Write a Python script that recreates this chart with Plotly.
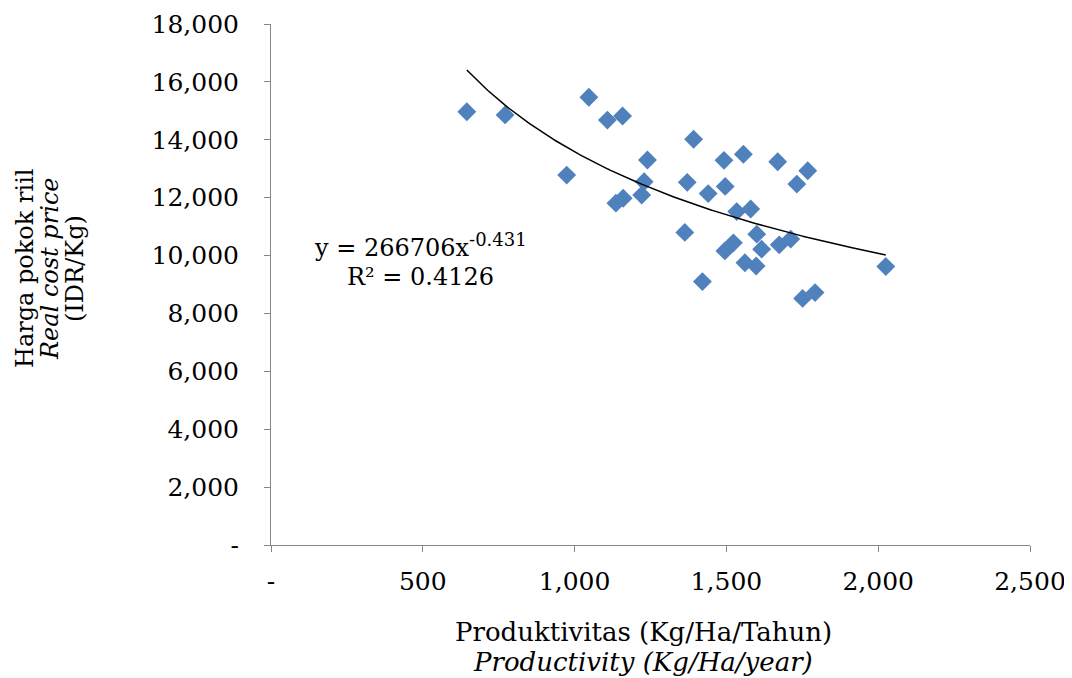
import numpy as np
import plotly.graph_objects as go

# Data
productivity = [645, 771, 1047, 1108, 1158, 974, 1240, 1229, 1136, 1160, 1221,
                1392, 1371, 1440, 1492, 1496, 1556, 1669, 1768, 1732, 1534, 1580,
                1363, 1600, 1523, 1495, 1616, 1674, 1712, 1561, 1598, 1421, 1751,
                1792, 2025]
cost_price = [14970, 14860, 15470, 14680, 14820, 12780, 13300, 12550, 11810, 11980, 12090,
              14020, 12530, 12140, 13290, 12390, 13500, 13240, 12930, 12470, 11520, 11610,
              10800, 10740, 10440, 10160, 10220, 10370, 10570, 9750, 9640, 9100, 8520,
              8720, 9620]

# Power trendline as displayed: y = 266706 x^-0.431
coef_a = 266706
coef_b = -0.431
r_squared = 0.4126

x_ticks = [0, 500, 1000, 1500, 2000, 2500]
x_ticktext = ["-", "500", "1,000", "1,500", "2,000", "2,500"]
y_ticks = [0, 2000, 4000, 6000, 8000, 10000, 12000, 14000, 16000, 18000]
y_ticktext = ["-", "2,000", "4,000", "6,000", "8,000", "10,000", "12,000",
              "14,000", "16,000", "18,000"]

FONT = "DejaVu Serif"
AXIS_COLOR = "#868686"

xt = np.linspace(min(productivity), max(productivity), 200)
yt = coef_a * xt ** coef_b

fig = go.Figure()
fig.add_trace(go.Scatter(
    x=productivity, y=cost_price, mode="markers",
    marker=dict(symbol="diamond", size=14.5, color="#4F81BD", line=dict(width=0)),
    showlegend=False, hoverinfo="x+y"))
fig.add_trace(go.Scatter(
    x=xt, y=yt, mode="lines", line=dict(color="black", width=1.5),
    showlegend=False, hoverinfo="skip"))

# The page body adds an 8px margin, so the figure is offset by (8, 8).
OFF = 8
PL, PR, PT, PB = 271, 1030, 24, 545  # plot area in page pixels

fig.update_layout(
    width=1072 - OFF, height=678 - OFF,
    margin=dict(l=PL - OFF, r=(1072 - OFF) - (PR - OFF), t=PT - OFF, b=(678 - OFF) - (PB - OFF)),
    paper_bgcolor="white", plot_bgcolor="white",
    font=dict(family=FONT, size=24, color="black"),
    xaxis=dict(range=[0, 2500], tickvals=x_ticks, ticktext=x_ticktext, automargin=False,
               showgrid=False, zeroline=False, showline=True,
               linecolor=AXIS_COLOR, linewidth=1, ticks="outside", ticklen=6,
               tickcolor=AXIS_COLOR, tickwidth=1, ticklabelstandoff=8,
               tickfont=dict(family=FONT, size=25, color="black")),
    yaxis=dict(range=[0, 18000], tickvals=y_ticks, ticktext=y_ticktext, automargin=False,
               showgrid=False, zeroline=False, showline=True,
               linecolor=AXIS_COLOR, linewidth=1, ticks="outside", ticklen=6,
               tickcolor=AXIS_COLOR, tickwidth=1, ticklabelstandoff=20,
               tickfont=dict(family=FONT, size=25, color="black")),
)

def px_to_paper_x(px):
    return (px - PL) / float(PR - PL)

def px_to_paper_y(py):
    return (PB - py) / float(PB - PT)

annotations = []
# y axis title (three rotated lines)
for xc, txt in [(25, "Harga pokok riil"), (50, "<i>Real cost price</i>"), (75, "(IDR/Kg)")]:
    annotations.append(dict(xref="paper", yref="paper", x=px_to_paper_x(xc), y=px_to_paper_y(268),
                            text=txt, textangle=-90, showarrow=False,
                            xanchor="center", yanchor="middle",
                            font=dict(family=FONT, size=24, color="black")))
# x axis title
for yc, txt in [(632, "Produktivitas (Kg/Ha/Tahun)"), (662, "<i>Productivity (Kg/Ha/year)</i>")]:
    annotations.append(dict(xref="paper", yref="paper", x=px_to_paper_x(643), y=px_to_paper_y(yc),
                            text=txt, showarrow=False, xanchor="center", yanchor="middle",
                            font=dict(family=FONT, size=26, color="black")))
# equation
annotations.append(dict(xref="paper", yref="paper", x=px_to_paper_x(420), y=px_to_paper_y(245),
                        text=f"y = {coef_a}x<sup><span style='font-size:18px'>{coef_b}</span></sup>",
                        showarrow=False, xanchor="center", yanchor="middle",
                        font=dict(family=FONT, size=24, color="black")))
annotations.append(dict(xref="paper", yref="paper", x=px_to_paper_x(420), y=px_to_paper_y(277),
                        text=f"R² = {r_squared}", showarrow=False,
                        xanchor="center", yanchor="middle",
                        font=dict(family=FONT, size=24, color="black")))
fig.update_layout(annotations=annotations)

fig.write_html("out.html")
